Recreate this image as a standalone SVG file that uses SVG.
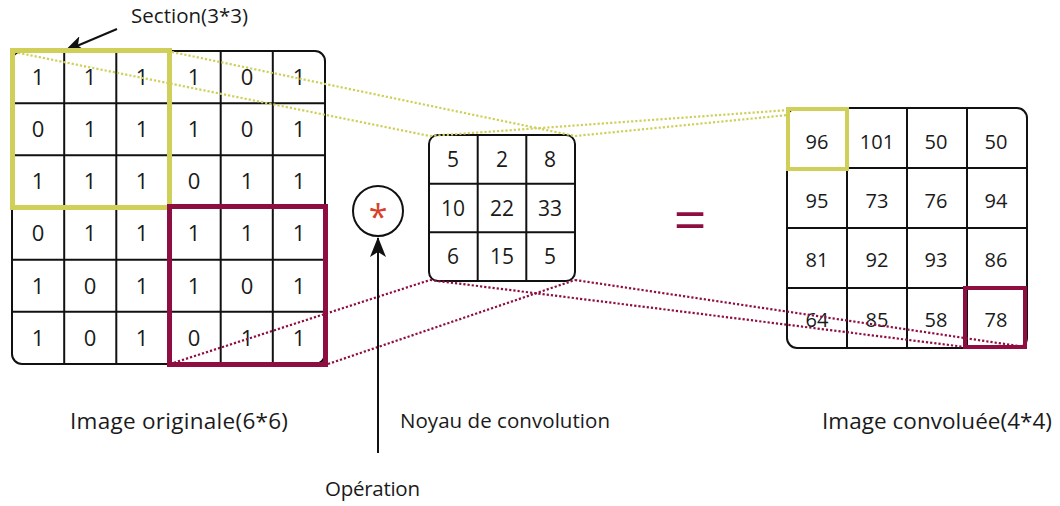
<svg xmlns="http://www.w3.org/2000/svg" width="1060" height="506" viewBox="0 0 1060 506">
  <style>
    .grid { fill: #ffffff; stroke: #111111; stroke-width: 2; }
    .cell { stroke: #111111; stroke-width: 2; }
    .num { font-family: "Open Sans", "Liberation Sans", sans-serif; fill: #1a1a1a; text-anchor: middle; }
    .n6 { font-size: 22px; }
    .n3 { font-size: 21px; }
    .n4 { font-size: 20px; }
    .label { font-family: "Open Sans", "Liberation Sans", sans-serif; font-size: 20.5px; fill: #1a1a1a; }
    .big { font-size: 22.5px; }
    .dotY { stroke: #cfcf5a; stroke-width: 2.2; stroke-dasharray: 2.2 2; fill: none; }
    .dotM { stroke: #8f0e41; stroke-width: 2.2; stroke-dasharray: 2.2 2; fill: none; }
    .hlY { fill: none; stroke: #cfcf5a; }
    .hlM { fill: none; stroke: #8f0e41; }
  </style>
  <defs>
    <marker id="head" viewBox="0 0 20 16" refX="19" refY="8" markerWidth="20" markerHeight="16" markerUnits="userSpaceOnUse" orient="auto">
      <path d="M0,0 L20,8 L0,16 L5,8 Z" fill="#111111"/>
    </marker>
  </defs>
  <rect width="1060" height="506" fill="#ffffff"/>

  <!-- input matrix 6x6 -->
  <g id="image-originale">
    <rect class="grid" x="12" y="51" width="313" height="313" rx="10"/>
    <g class="cell">
      <line x1="64.2" y1="51" x2="64.2" y2="364"/>
      <line x1="116.3" y1="51" x2="116.3" y2="364"/>
      <line x1="168.5" y1="51" x2="168.5" y2="364"/>
      <line x1="220.7" y1="51" x2="220.7" y2="364"/>
      <line x1="272.8" y1="51" x2="272.8" y2="364"/>
      <line x1="12" y1="103.2" x2="325" y2="103.2"/>
      <line x1="12" y1="155.3" x2="325" y2="155.3"/>
      <line x1="12" y1="207.5" x2="325" y2="207.5"/>
      <line x1="12" y1="259.7" x2="325" y2="259.7"/>
      <line x1="12" y1="311.8" x2="325" y2="311.8"/>
    </g>
    <g class="num n6">
      <text x="38" y="85">1</text><text x="90" y="85">1</text><text x="142" y="85">1</text><text x="194" y="85">1</text><text x="247" y="85">0</text><text x="299" y="85">1</text>
      <text x="38" y="137">0</text><text x="90" y="137">1</text><text x="142" y="137">1</text><text x="194" y="137">1</text><text x="247" y="137">0</text><text x="299" y="137">1</text>
      <text x="38" y="189">1</text><text x="90" y="189">1</text><text x="142" y="189">1</text><text x="194" y="189">0</text><text x="247" y="189">1</text><text x="299" y="189">1</text>
      <text x="38" y="241">0</text><text x="90" y="241">1</text><text x="142" y="241">1</text><text x="194" y="241">1</text><text x="247" y="241">1</text><text x="299" y="241">1</text>
      <text x="38" y="294">1</text><text x="90" y="294">0</text><text x="142" y="294">1</text><text x="194" y="294">1</text><text x="247" y="294">0</text><text x="299" y="294">1</text>
      <text x="38" y="346">1</text><text x="90" y="346">0</text><text x="142" y="346">1</text><text x="194" y="346">0</text><text x="247" y="346">1</text><text x="299" y="346">1</text>
    </g>
  </g>

  <!-- convolution kernel 3x3 -->
  <g id="noyau">
    <rect class="grid" x="429" y="135" width="146" height="146" rx="9"/>
    <g class="cell">
      <line x1="477.7" y1="135" x2="477.7" y2="281"/>
      <line x1="526.3" y1="135" x2="526.3" y2="281"/>
      <line x1="429" y1="183.7" x2="575" y2="183.7"/>
      <line x1="429" y1="232.3" x2="575" y2="232.3"/>
    </g>
    <g class="num n3">
      <text x="453" y="167">5</text><text x="502" y="167">2</text><text x="550" y="167">8</text>
      <text x="453" y="216">10</text><text x="502" y="216">22</text><text x="550" y="216">33</text>
      <text x="453" y="264">6</text><text x="502" y="264">15</text><text x="550" y="264">5</text>
    </g>
  </g>

  <!-- output matrix 4x4 -->
  <g id="image-convoluee">
    <rect class="grid" x="787" y="108" width="240" height="240" rx="10"/>
    <g class="cell">
      <line x1="847" y1="108" x2="847" y2="348"/>
      <line x1="907" y1="108" x2="907" y2="348"/>
      <line x1="967" y1="108" x2="967" y2="348"/>
      <line x1="787" y1="168" x2="1027" y2="168"/>
      <line x1="787" y1="228" x2="1027" y2="228"/>
      <line x1="787" y1="288" x2="1027" y2="288"/>
    </g>
    <g class="num n4">
      <text x="817" y="149">96</text><text x="877" y="149">101</text><text x="936" y="149">50</text><text x="996" y="149">50</text>
      <text x="817" y="208">95</text><text x="877" y="208">73</text><text x="936" y="208">76</text><text x="996" y="208">94</text>
      <text x="817" y="267">81</text><text x="877" y="267">92</text><text x="936" y="267">93</text><text x="996" y="267">86</text>
      <text x="817" y="327">64</text><text x="877" y="327">85</text><text x="936" y="327">58</text><text x="996" y="327">78</text>
    </g>
  </g>

  <!-- projection lines between section, kernel and result -->
  <g id="connecteurs">
    <line class="dotY" x1="14" y1="52" x2="430" y2="136"/>
    <line class="dotY" x1="172" y1="52" x2="575" y2="136"/>
    <line class="dotY" x1="430" y1="136" x2="789" y2="110"/>
    <line class="dotY" x1="575" y1="136" x2="788" y2="115"/>
    <line class="dotM" x1="170" y1="364" x2="430" y2="280"/>
    <line class="dotM" x1="328" y1="364" x2="575" y2="280"/>
    <line class="dotM" x1="430" y1="280" x2="965" y2="347"/>
    <line class="dotM" x1="575" y1="280" x2="1025" y2="347"/>
    <line x1="117" y1="29" x2="65" y2="51" stroke="#111111" stroke-width="2" marker-end="url(#head)"/>
    <line x1="378" y1="453" x2="378" y2="238" stroke="#111111" stroke-width="2" marker-end="url(#head)"/>
  </g>

  <!-- highlighted sections -->
  <g id="sections">
    <rect class="hlY" x="12.5" y="50.5" width="157" height="157" stroke-width="5"/>
    <rect class="hlM" x="169.5" y="206.5" width="156" height="158" stroke-width="5"/>
    <rect class="hlY" x="788" y="109" width="59" height="60" stroke-width="4"/>
    <rect class="hlM" x="965" y="288" width="60" height="59" stroke-width="4"/>
  </g>

  <!-- convolution operator -->
  <g id="operation">
    <circle cx="378" cy="211" r="25" fill="#ffffff" stroke="#111111" stroke-width="2"/>
    <text x="378" y="229" font-family="Open Sans, Liberation Sans, sans-serif" font-size="34" fill="#d9402c" text-anchor="middle">*</text>
  </g>

  <g id="egal">
    <text x="690" y="241" font-family="Open Sans, Liberation Sans, sans-serif" font-size="58" fill="#8f0e41" text-anchor="middle">=</text>
  </g>

  <g id="labels">
    <text class="label" x="131" y="23" textLength="117">Section(3*3)</text>
    <text class="label big" x="70" y="429" textLength="218">Image originale(6*6)</text>
    <text class="label" x="400" y="428" textLength="210">Noyau de convolution</text>
    <text class="label big" x="822" y="429" textLength="230">Image convoluée(4*4)</text>
    <text class="label" x="325" y="496" textLength="95">Opération</text>
  </g>
</svg>
